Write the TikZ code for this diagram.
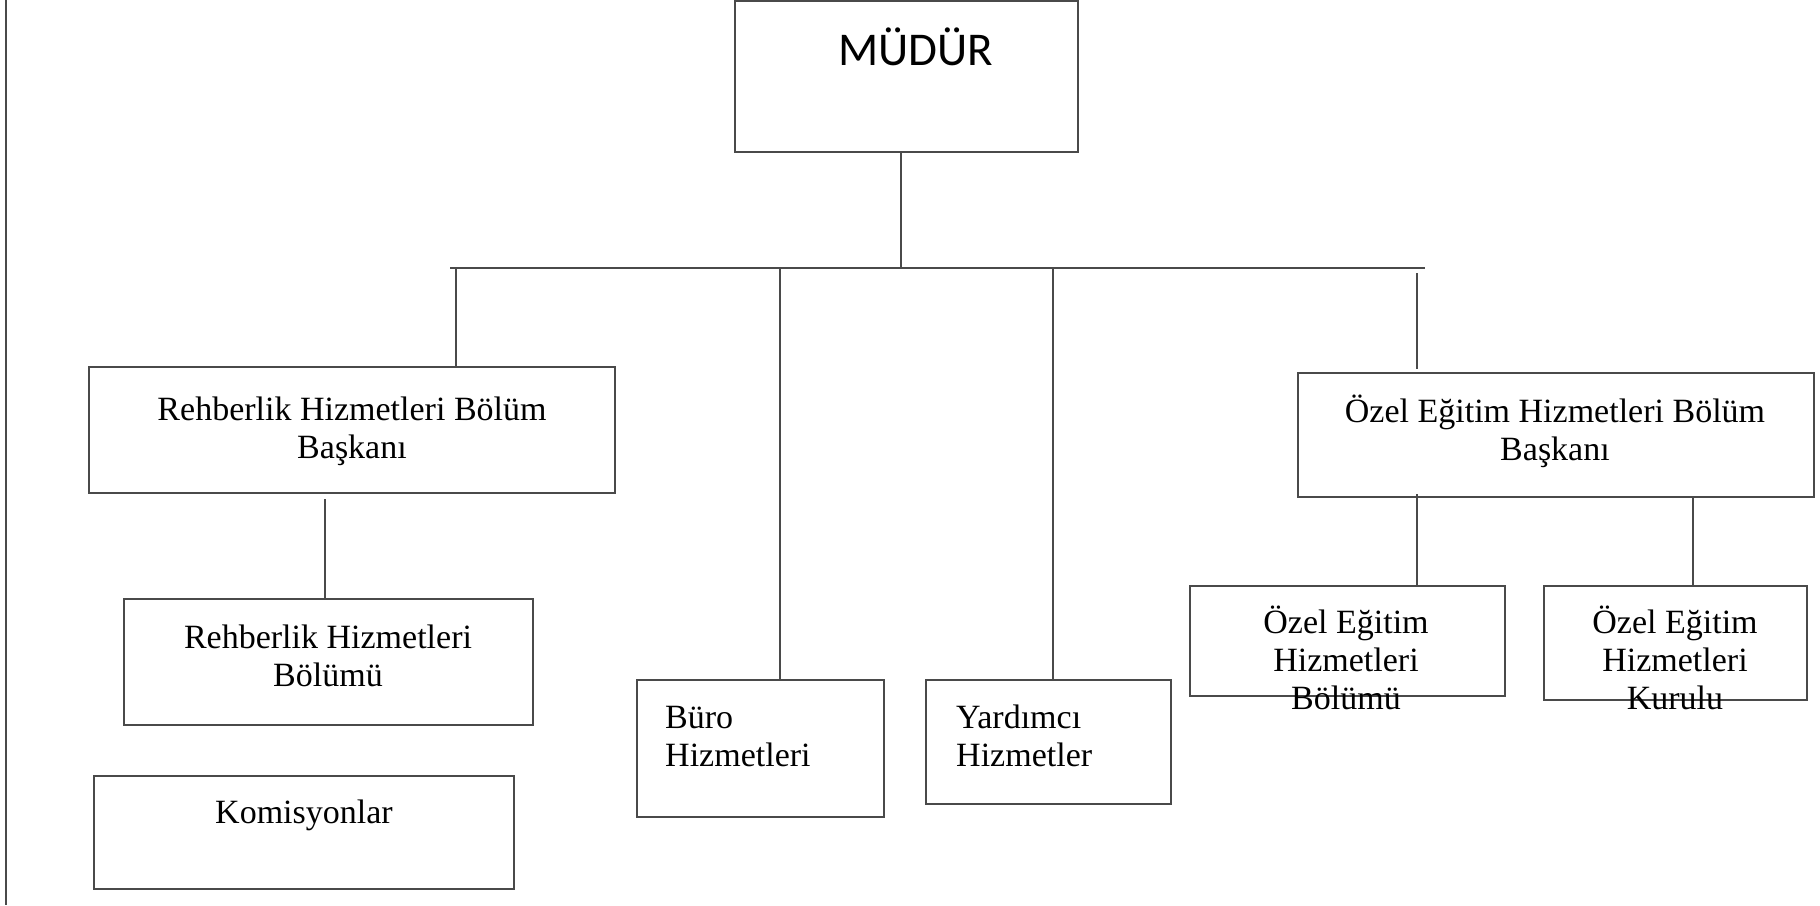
\documentclass[tikz,border=0pt]{standalone}
\usepackage{fontspec}
\setmainfont{Liberation Serif}
\newfontfamily\calfont{Carlito}
\definecolor{linec}{HTML}{4A4A4A}
\begin{document}
\begin{tikzpicture}[x=1pt,y=-1pt,
  box/.style={draw=linec, line width=2pt, inner sep=0pt, fill=none},
  conn/.style={draw=linec, line width=1.6pt},
  lbl/.style={font=\fontsize{34}{38}\selectfont, inner sep=0pt, align=center, anchor=base},
  lbll/.style={font=\fontsize{34}{38}\selectfont, inner sep=0pt, align=left, anchor=base west}]
\useasboundingbox (0,0) rectangle (1820,905);
% left rule
\coordinate (lt) at (6,0);
\coordinate (lb) at (6,905);
\draw[conn, line width=2pt] (lt) -- (lb);
% boxes
\node[box, minimum width=343pt, minimum height=151pt] (mudur) at (906.5,76.5) {};
\node[box, minimum width=526pt, minimum height=126pt] (rbb) at (352,430) {};
\node[box, minimum width=409pt, minimum height=126pt] (rhb) at (328.5,662) {};
\node[box, minimum width=420pt, minimum height=113pt] (kom) at (304,832.5) {};
\node[box, minimum width=247pt, minimum height=137pt] (buro) at (760.5,748.5) {};
\node[box, minimum width=245pt, minimum height=124pt] (yard) at (1048.5,742) {};
\node[box, minimum width=516pt, minimum height=124pt] (ozb) at (1556,435) {};
\node[box, minimum width=315pt, minimum height=110pt] (ozbol) at (1347.5,641) {};
\node[box, minimum width=263pt, minimum height=114pt] (ozkur) at (1675.5,643) {};
% texts (base = baseline of the last line)
\node[inner sep=0pt, anchor=base, font=\calfont\fontsize{47}{50}\selectfont] (tmudur) at (916,65) {MÜDÜR};
\node[lbl] (trbb) at (352,458) {Rehberlik Hizmetleri Bölüm\\Başkanı};
\node[lbl] (trhb) at (328,686) {Rehberlik Hizmetleri\\Bölümü};
\node[lbl] (tkom) at (304,823) {Komisyonlar};
\node[lbll] (tburo) at (665,766) {Büro\\Hizmetleri};
\node[lbll] (tyard) at (956,766) {Yardımcı\\Hizmetler};
\node[lbl] (tozb) at (1555,460) {Özel Eğitim Hizmetleri Bölüm\\Başkanı};
\node[lbl] (tozbol) at (1346,709) {Özel Eğitim\\Hizmetleri\\Bölümü};
\node[lbl] (tozkur) at (1675,709) {Özel Eğitim\\Hizmetleri\\Kurulu};
% connectors
\coordinate (j) at (901,268);
\coordinate (bl) at (450,268);
\coordinate (br) at (1425,268);
\draw[conn] (j |- mudur.south) -- (j);
\draw[conn] (bl) -- (br);
\coordinate (d1) at (456,268);
\draw[conn] (d1) -- (d1 |- rbb.north);
\coordinate (d2) at (780,268);
\draw[conn] (d2) -- (d2 |- buro.north);
\coordinate (d3) at (1053,268);
\draw[conn] (d3) -- (d3 |- yard.north);
\coordinate (d4) at (1417,273);
\coordinate (d4e) at (1417,369);
\draw[conn] (d4) -- (d4e);
\coordinate (r1) at (325,499);
\draw[conn] (r1) -- (r1 |- rhb.north);
\coordinate (o1) at (1417,494);
\draw[conn] (o1) -- (o1 |- ozbol.north);
\coordinate (o2) at (1693,497);
\draw[conn] (o2) -- (o2 |- ozkur.north);
\end{tikzpicture}
\end{document}
